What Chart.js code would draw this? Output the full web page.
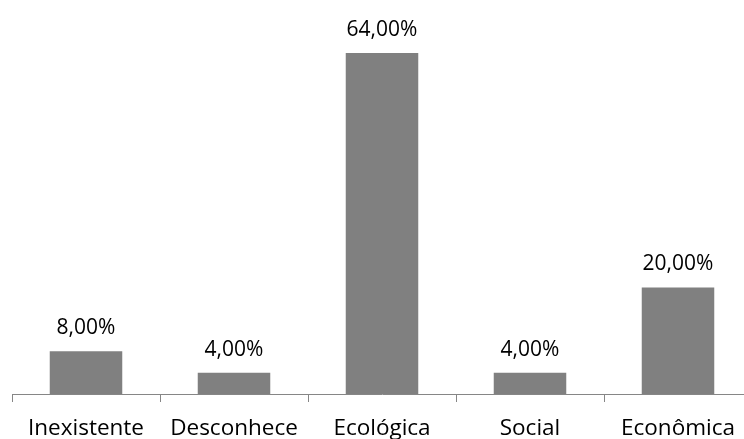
<!DOCTYPE html>
<html>
<head>
<meta charset="utf-8">
<script src="https://cdn.jsdelivr.net/npm/chart.js@4"></script>
<style>
    html, body { margin: 0; padding: 0; background: #fff; overflow: hidden; }
    #wrap { width: 760px; height: 439px; }
</style>
</head>
<body>
<div id="wrap"><canvas id="chart" width="760" height="439"></canvas></div>
<script>
    // ── Data ──
    var categories = ["Inexistente", "Desconhece", "Ecológica", "Social", "Econômica"];
    var percentages = [8, 4, 64, 4, 20];
    var valueLabels = ["8,00%", "4,00%", "64,00%", "4,00%", "20,00%"];

    var FONT = "'Open Sans', sans-serif";

    // Value labels drawn above each bar
    var barLabels = {
        id: "barLabels",
        afterDatasetsDraw: function (chart) {
            var ctx = chart.ctx;
            var meta = chart.getDatasetMeta(0);
            ctx.save();
            ctx.font = "21px " + FONT;
            ctx.fillStyle = "#000";
            ctx.textAlign = "center";
            ctx.textBaseline = "alphabetic";
            meta.data.forEach(function (bar, i) {
                ctx.fillText(valueLabels[i], bar.x, bar.y - 17);
            });
            ctx.restore();
        }
    };

    new Chart(document.getElementById("chart"), {
        type: "bar",
        data: {
            labels: categories,
            datasets: [{
                data: percentages,
                backgroundColor: "#808080",
                borderWidth: 0,
                categoryPercentage: 1,
                barPercentage: 0.49
            }]
        },
        options: {
            responsive: false,
            animation: false,
            layout: { padding: { left: 12, right: 8, top: 21, bottom: 0 } },
            plugins: { legend: { display: false }, tooltip: { enabled: false } },
            scales: {
                x: {
                    offset: true,
                    grid: {
                        offset: true,
                        drawOnChartArea: false,
                        drawTicks: true,
                        tickLength: 8,
                        color: "#868686",
                        lineWidth: 1
                    },
                    border: { display: true, color: "#868686", width: 1 },
                    ticks: {
                        color: "#000",
                        font: { family: FONT, size: 22.5 },
                        padding: 13,
                        maxRotation: 0,
                        autoSkip: false
                    },
                    afterFit: function (scale) { scale.height = 45; }
                },
                y: {
                    display: false,
                    min: 0,
                    max: 70
                }
            }
        },
        plugins: [barLabels]
    });
</script>
</body>
</html>
